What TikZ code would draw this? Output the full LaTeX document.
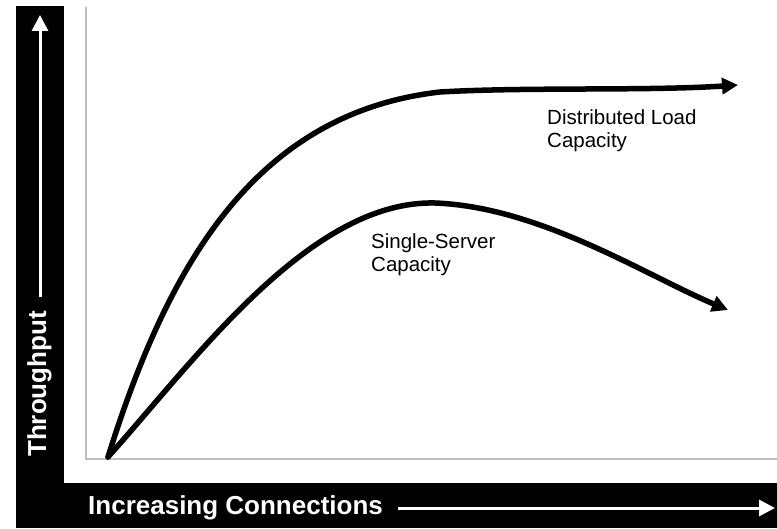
\documentclass[tikz,border=0pt]{standalone}
\usepackage{fontspec}
\setmainfont{Liberation Sans}
\usetikzlibrary{arrows.meta}
\definecolor{framegray}{HTML}{BDBDBD}
\tikzset{
  band/.style={fill=black, draw=none},
  axisarrow/.style={white, line width=3pt, -{Triangle[length=16pt,width=16pt]}},
  curve/.style={black, line width=5.5pt, line cap=round, -{Triangle[length=16pt,width=16pt]}},
  axislabel/.style={text=white, inner sep=0pt, font=\bfseries\fontsize{26}{30}\selectfont},
  curvelabel/.style={text=black, inner sep=0pt, align=left, font=\fontsize{20.5}{23}\selectfont}
}
\begin{document}
\begin{tikzpicture}[x=1pt, y=-1pt]
\useasboundingbox (0,0) rectangle (777,529);
% black L band
\fill[band] (16,6) rectangle (64,528);
\fill[band] (16,483) rectangle (777,528);
% gray chart frame
\draw[framegray, line width=2pt] (86,7) -- (86,459) -- (777,459);
% axis labels
\node[axislabel, rotate=90, anchor=base west] (ylab) at (46,457) {Throughput};
\node[axislabel, anchor=base west] (xlab) at (88,514) {Increasing Connections};
% axis arrows
\coordinate (ystart) at (40,297);
\coordinate (yend) at (40,15);
\coordinate (xstart) at (398,508);
\coordinate (xend) at (775,508);
\draw[axisarrow] (ystart) -- (yend);
\draw[axisarrow] (xstart) -- (xend);
% curves
\coordinate (origin) at (108,457);
\coordinate (dmid) at (440,92);
\coordinate (dend) at (738,85);
\coordinate (smid) at (435,203);
\coordinate (send) at (728,310);
\draw[curve] (origin) .. controls (168,265) and (255,113) .. (dmid)
  .. controls (525,87) and (650,91) .. (dend);
\draw[curve] (origin) .. controls (195,360) and (310,200) .. (smid)
  .. controls (540,207) and (645,275) .. (send);
% curve labels
\node[curvelabel, anchor=north west] (dlab) at (547,109) {Distributed Load\\Capacity};
\node[curvelabel, anchor=north west] (slab) at (371,233) {Single-Server\\Capacity};
\end{tikzpicture}
\end{document}
